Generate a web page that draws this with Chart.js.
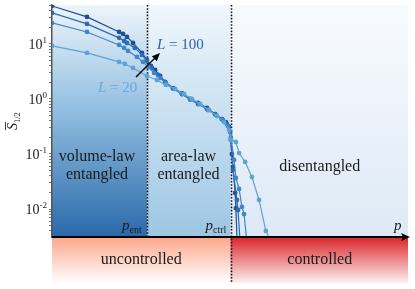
<!DOCTYPE html>
<html><head><meta charset="utf-8">
<script src="https://cdn.jsdelivr.net/npm/chart.js@4"></script>
<style>html,body{margin:0;padding:0;background:#fff}#wrap{width:415px;height:289px}</style>
</head><body><div id="wrap"><canvas id="c" width="415" height="289"></canvas></div>
<script>
// ---- data (p, mean Renyi entropy S_1/2) ----
const seriesNames = ['L = 20', 'L = 40', 'L = 60', 'L = 100'];
const pL20  = [0, 0.098, 0.188, 0.204, 0.227, 0.266, 0.294, 0.319, 0.345, 0.370, 0.392, 0.415, 0.440, 0.462, 0.482, 0.496, 0.501, 0.515, 0.524, 0.541, 0.560, 0.580, 0.599, 0.619];
const sL20  = [9.2, 6.86, 4.71, 4.33, 3.66, 2.62, 2.21, 1.80, 1.52, 1.23, 1.0, 0.81, 0.63, 0.49, 0.38, 0.273, 0.18, 0.165, 0.104, 0.0716, 0.0382, 0.0146, 0.004, 0.0022];
const pL40  = [0, 0.098, 0.188, 0.202, 0.213, 0.238, 0.255, 0.269, 0.286, 0.303, 0.319, 0.342, 0.364, 0.387, 0.412, 0.437, 0.459, 0.479, 0.493, 0.501, 0.510, 0.515, 0.524, 0.532, 0.538, 0.546];
const sL40  = [24.1, 16.5, 9.59, 8.46, 7.46, 5.80, 4.71, 3.82, 2.97, 2.41, 1.95, 1.52, 1.23, 0.98, 0.81, 0.63, 0.51, 0.41, 0.32, 0.20, 0.078, 0.0366, 0.0231, 0.0109, 0.0081, 0.0025];
const pL60  = [0, 0.098, 0.188, 0.202, 0.210, 0.232, 0.252, 0.266, 0.280, 0.297, 0.317, 0.339, 0.364, 0.387, 0.409, 0.434, 0.457, 0.476, 0.490, 0.499, 0.507, 0.518, 0.521, 0.527];
const sL60  = [36.6, 23.1, 12.9, 11.3, 10.4, 8.46, 6.31, 4.91, 3.66, 2.73, 1.98, 1.55, 1.23, 0.98, 0.81, 0.66, 0.53, 0.43, 0.35, 0.25, 0.051, 0.0146, 0.0096, 0.0025];
const pL100 = [0, 0.098, 0.188, 0.199, 0.210, 0.227, 0.252, 0.266, 0.277, 0.289, 0.303, 0.317, 0.339, 0.364, 0.387, 0.409, 0.434, 0.457, 0.476, 0.487, 0.496, 0.501, 0.504, 0.507, 0.513, 0.515, 0.519];
const sL100 = [49, 31.0, 16.5, 15.2, 13.4, 10.4, 6.86, 5.12, 3.98, 3.37, 2.62, 2.04, 1.58, 1.28, 1.0, 0.85, 0.69, 0.53, 0.43, 0.38, 0.31, 0.18, 0.10, 0.058, 0.0196, 0.0103, 0.0022];
const seriesP = [pL20, pL40, pL60, pL100];
const seriesS = [sL20, sL40, sL60, sL100];
const seriesColors = ['#5da2d8', '#3f86c7', '#2a6bb3', '#1c4f93'];

const pEnt = 0.266, pCtrl = 0.5;
const yMin = 0.0031, yMax = 51;
const yDecades = [0.01, 0.1, 1, 10];
const yExponents = ['-2', '-1', '0', '1'];
const yMinorTicks = [];
[0.001, 0.01, 0.1, 1, 10].forEach(d => { for (let k = 1; k <= 9; k++) { const v = +(d * k).toPrecision(3); if (v >= yMin && v <= yMax) yMinorTicks.push(v); } });

const SERIF = '"Liberation Serif", "DejaVu Serif", serif';

const plugin = {
  id: 'decor',
  beforeDraw(chart) {
    const { ctx, chartArea: a, scales: { x } } = chart;
    const xe = x.getPixelForValue(pEnt), xc = x.getPixelForValue(pCtrl), xr = a.right - 1;
    const fillGrad = (x0, x1, y0, y1, stops) => {
      const g = ctx.createLinearGradient(0, y0, 0, y1);
      stops.forEach(s => g.addColorStop(s[0], s[1]));
      ctx.fillStyle = g; ctx.fillRect(x0, y0, x1 - x0, y1 - y0);
    };
    ctx.save();
    fillGrad(a.left, xe, a.top, a.bottom, [[0, '#eef5fb'], [0.45, '#92bfe1'], [1, '#2a69a9']]);
    fillGrad(xe, xc, a.top, a.bottom, [[0, '#f1f7fc'], [1, '#9cc6e3']]);
    fillGrad(xc, xr, a.top, a.bottom, [[0, '#f8fbfe'], [1, '#dde9f6']]);
    // control bar below
    const b0 = a.bottom, b1 = a.bottom + 46;
    fillGrad(a.left, xc, b0, b1, [[0, '#fca68a'], [1, '#ffffff']]);
    fillGrad(xc, xr, b0, b1, [[0, '#d9252a'], [1, '#fdf0f0']]);
    ctx.restore();
  },
  beforeDatasetsDraw(chart) {
    const { ctx, chartArea: a, scales: { x } } = chart;
    ctx.save();
    ctx.strokeStyle = '#111'; ctx.lineWidth = 1.6; ctx.setLineDash([1.6, 1.6]);
    const xe = Math.round(x.getPixelForValue(pEnt)) + 0.5, xc = Math.round(x.getPixelForValue(pCtrl)) + 0.5;
    ctx.beginPath(); ctx.moveTo(xe, a.top); ctx.lineTo(xe, a.bottom); ctx.stroke();
    ctx.beginPath(); ctx.moveTo(xc, a.top); ctx.lineTo(xc, a.bottom + 46); ctx.stroke();
    ctx.restore();
  },
  afterDraw(chart) {
    const { ctx, chartArea: a, scales: { x, y } } = chart;
    const xe = x.getPixelForValue(pEnt), xc = x.getPixelForValue(pCtrl);
    ctx.save();
    ctx.setLineDash([]);
    // x axis with arrow
    ctx.strokeStyle = '#000'; ctx.fillStyle = '#000'; ctx.lineWidth = 2;
    ctx.beginPath(); ctx.moveTo(a.left, a.bottom); ctx.lineTo(a.right - 6, a.bottom); ctx.stroke();
    ctx.beginPath(); ctx.moveTo(a.right + 1, a.bottom); ctx.lineTo(a.right - 8, a.bottom - 4); ctx.lineTo(a.right - 6, a.bottom); ctx.lineTo(a.right - 8, a.bottom + 4); ctx.closePath(); ctx.fill();
    // y tick labels
    ctx.fillStyle = '#222'; ctx.textBaseline = 'alphabetic';
    yDecades.forEach((d, i) => {
      const py = y.getPixelForValue(d);
      ctx.font = '9px ' + SERIF; ctx.textAlign = 'right';
      const ew = ctx.measureText(yExponents[i]).width;
      ctx.fillText(yExponents[i], 47, py - 1);
      ctx.font = '14px ' + SERIF;
      ctx.fillText('10', 47 - ew, py + 5);
    });
    // y title  S-bar_{1/2}
    ctx.save();
    ctx.translate(17, 121); ctx.rotate(-Math.PI / 2);
    ctx.textAlign = 'left';
    ctx.font = 'italic 14px ' + SERIF;
    ctx.fillText('S', -9, 0);
    const sw = ctx.measureText('S').width;
    ctx.lineWidth = 0.9; ctx.strokeStyle = '#222';
    ctx.beginPath(); ctx.moveTo(-9, -11.5); ctx.lineTo(-9 + sw + 1, -11.5); ctx.stroke();
    ctx.font = '8.5px ' + SERIF;
    ctx.fillText('1/2', -9 + sw, 3);
    ctx.restore();
    // region labels
    ctx.fillStyle = '#1a1a1a'; ctx.textAlign = 'center';
    ctx.font = '16px ' + SERIF;
    ctx.fillText('volume-law', 97, 161);
    ctx.fillText('entangled', 97, 179);
    ctx.fillText('area-law', 188.5, 161);
    ctx.fillText('entangled', 188.5, 179);
    ctx.fillText('disentangled', (xc + a.right) / 2, 171);
    ctx.fillText('uncontrolled', (a.left + xc) / 2, 264);
    ctx.fillText('controlled', (xc + a.right) / 2, 264);
    // p labels
    ctx.textAlign = 'left';
    const plab = (px, sub) => {
      ctx.font = 'italic 15px ' + SERIF; ctx.fillText('p', px, 230);
      const w = ctx.measureText('p').width;
      ctx.font = '10px ' + SERIF; ctx.fillText(sub, px + w, 233);
    };
    plab(xe - 25, 'ent');
    plab(xc - 25, 'ctrl');
    ctx.font = 'italic 15px ' + SERIF; ctx.fillText('p', a.right - 15, 230);
    // L labels and arrow
    const lab = (px, py, num, col) => {
      ctx.fillStyle = col;
      ctx.font = 'italic 15px ' + SERIF; ctx.fillText('L', px, py);
      const w = ctx.measureText('L').width;
      ctx.font = '15px ' + SERIF; ctx.fillText(' = ' + num, px + w, py);
    };
    lab(157, 49, '100', '#2d62aa');
    lab(98, 92, '20', '#69a8db');
    ctx.strokeStyle = '#000'; ctx.fillStyle = '#000'; ctx.lineWidth = 1.4;
    const x0 = 136, y0 = 77, x1 = 160, y1 = 53;
    const ang = Math.atan2(y1 - y0, x1 - x0);
    ctx.beginPath(); ctx.moveTo(x0, y0); ctx.lineTo(x1 - 5 * Math.cos(ang), y1 - 5 * Math.sin(ang)); ctx.stroke();
    ctx.beginPath();
    ctx.moveTo(x1, y1);
    ctx.lineTo(x1 - 8 * Math.cos(ang) + 3.5 * Math.sin(ang), y1 - 8 * Math.sin(ang) - 3.5 * Math.cos(ang));
    ctx.lineTo(x1 - 8 * Math.cos(ang) - 3.5 * Math.sin(ang), y1 - 8 * Math.sin(ang) + 3.5 * Math.cos(ang));
    ctx.closePath(); ctx.fill();
    ctx.restore();
  }
};

const datasets = seriesNames.map((name, i) => ({
  label: name,
  data: seriesP[i].map((p, j) => ({ x: p, y: seriesS[i][j] })),
  borderColor: seriesColors[i],
  backgroundColor: seriesColors[i],
  borderWidth: 1.2,
  pointRadius: 1.8,
  pointHoverRadius: 1.8,
  tension: 0
}));

new Chart(document.getElementById('c'), {
  type: 'line',
  data: { datasets },
  plugins: [plugin],
  options: {
    responsive: false,
    devicePixelRatio: 1,
    animation: false,
    events: [],
    layout: { padding: { top: 5, right: 6, bottom: 52, left: 0 } },
    plugins: { legend: { display: false }, tooltip: { enabled: false } },
    scales: {
      x: { type: 'linear', min: 0, max: 1, display: false },
      y: {
        type: 'logarithmic', min: yMin, max: yMax,
        afterFit: s => { s.width = 52; },
        afterBuildTicks: s => { s.ticks = yMinorTicks.map(v => ({ value: v })); },
        ticks: { display: false, autoSkip: false },
        grid: { drawOnChartArea: false, drawTicks: true, tickLength: 3, color: '#555', tickWidth: 0.8 },
        border: { display: true, color: '#555', width: 1.5 }
      }
    }
  }
});
</script>
</body></html>
